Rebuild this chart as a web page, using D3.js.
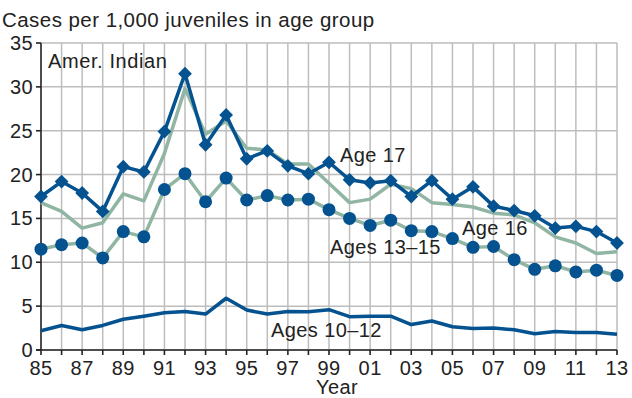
<!DOCTYPE html>
<html>
<head>
<meta charset="utf-8">
<script src="https://cdn.jsdelivr.net/npm/d3@7"></script>
<style>
  body { margin: 0; background: #fff; }
  text { font-family: "Liberation Sans", Arial, sans-serif; fill: #222; }
</style>
</head>
<body>
<div id="chart"></div>
<script>
// years 1985..2013
const years = d3.range(1985, 2014);
const age17 = [17.5, 19.2, 17.9, 15.8, 20.9, 20.3, 24.9, 31.5, 23.4, 26.8, 21.8, 22.7, 21.0, 20.1, 21.4, 19.4, 19.05, 19.3, 17.5, 19.3, 17.2, 18.6, 16.4, 15.9, 15.3, 13.9, 14.1, 13.5, 12.2];
const age16 = [16.8, 15.8, 13.9, 14.5, 17.8, 17.0, 22.4, 29.8, 24.6, 26.1, 23.0, 22.8, 21.2, 21.2, 19.0, 16.8, 17.2, 18.9, 18.4, 16.8, 16.6, 16.3, 15.6, 15.4, 14.5, 12.9, 12.2, 11.0, 11.2];
const age1315 = [11.5, 12.0, 12.2, 10.5, 13.5, 12.9, 18.3, 20.1, 16.9, 19.6, 17.1, 17.6, 17.1, 17.2, 16.0, 15.0, 14.2, 14.8, 13.6, 13.5, 12.7, 11.7, 11.8, 10.3, 9.2, 9.6, 8.9, 9.1, 8.5];
const age1012 = [2.2, 2.8, 2.3, 2.8, 3.5, 3.85, 4.25, 4.4, 4.1, 5.9, 4.55, 4.1, 4.4, 4.35, 4.6, 3.8, 3.85, 3.85, 2.9, 3.3, 2.65, 2.45, 2.5, 2.3, 1.85, 2.1, 2.0, 2.0, 1.8];
const yTicks = [0, 5, 10, 15, 20, 25, 30, 35];
const xLabelYears = d3.range(1985, 2014, 2);

const width = 632, height = 398;
const margin = { left: 41, right: 15, top: 43, bottom: 48 };
const blue = "#04528f", green = "#90b5a3";
const fs = "20px", ls = "0.4px";

const svg = d3.select("#chart").append("svg")
  .attr("width", width)
  .attr("height", height);

const x = d3.scaleLinear().domain([1985, 2013]).range([margin.left, width - margin.right]);
const y = d3.scaleLinear().domain([0, 35]).range([height - margin.bottom, margin.top]);

// grid
svg.append("g").selectAll("line")
  .data(years)
  .enter().append("line")
  .attr("x1", d => x(d)).attr("x2", d => x(d))
  .attr("y1", y(35)).attr("y2", y(0) + 5)
  .attr("stroke", "#bdbdbd").attr("stroke-width", 1.5);

svg.append("g").selectAll("line")
  .data(yTicks)
  .enter().append("line")
  .attr("x1", x(1985) - 5).attr("x2", x(2013))
  .attr("y1", d => y(d)).attr("y2", d => y(d))
  .attr("stroke", "#bdbdbd").attr("stroke-width", 1.5);

// axes lines
svg.append("line")
  .attr("x1", x(1985)).attr("x2", x(1985))
  .attr("y1", y(35)).attr("y2", y(0))
  .attr("stroke", "#222").attr("stroke-width", 1.5);
svg.append("line")
  .attr("x1", x(1985) - 5).attr("x2", x(2013))
  .attr("y1", y(0)).attr("y2", y(0))
  .attr("stroke", "#222").attr("stroke-width", 1.5);
svg.append("g").selectAll("line")
  .data(years)
  .enter().append("line")
  .attr("x1", d => x(d)).attr("x2", d => x(d))
  .attr("y1", y(0)).attr("y2", y(0) + 5)
  .attr("stroke", "#222").attr("stroke-width", 1.5);
svg.append("g").selectAll("line")
  .data(yTicks)
  .enter().append("line")
  .attr("x1", x(1985) - 5).attr("x2", x(1985))
  .attr("y1", d => y(d)).attr("y2", d => y(d))
  .attr("stroke", "#222").attr("stroke-width", 1.5);

// tick labels
svg.append("g").selectAll("text")
  .data(yTicks)
  .enter().append("text")
  .attr("x", 33)
  .attr("y", d => y(d) + 7)
  .attr("text-anchor", "end")
  .attr("font-size", fs).attr("letter-spacing", ls)
  .text(d => d);

svg.append("g").selectAll("text")
  .data(xLabelYears)
  .enter().append("text")
  .attr("x", d => x(d))
  .attr("y", 375)
  .attr("text-anchor", "middle")
  .attr("font-size", fs).attr("letter-spacing", ls)
  .text(d => String(d % 100).padStart(2, "0"));

svg.append("text").attr("x", 337).attr("y", 394).attr("text-anchor", "middle")
  .attr("font-size", fs).attr("letter-spacing", ls).text("Year");
svg.append("text").attr("x", 2).attr("y", 27)
  .attr("font-size", "20.5px").attr("letter-spacing", "0.45px")
  .text("Cases per 1,000 juveniles in age group");
svg.append("text").attr("x", 48).attr("y", 68)
  .attr("font-size", "20px").attr("letter-spacing", "0.6px").attr("font-weight", 500)
  .text("Amer. Indian");

// lines
const line = d3.line().x((d, i) => x(years[i])).y(d => y(d));

function drawLine(data, color) {
  svg.append("path")
    .datum(data)
    .attr("fill", "none")
    .attr("stroke", color)
    .attr("stroke-width", 3.5)
    .attr("stroke-linejoin", "round")
    .attr("d", line);
}

drawLine(age16, green);
drawLine(age1315, green);
drawLine(age1012, blue);
drawLine(age17, blue);

svg.append("g").selectAll("circle")
  .data(age1315)
  .enter().append("circle")
  .attr("cx", (d, i) => x(years[i]))
  .attr("cy", d => y(d))
  .attr("r", 6.5)
  .attr("fill", blue);

svg.append("g").selectAll("path")
  .data(age17)
  .enter().append("path")
  .attr("d", d3.symbol().type(d3.symbolSquare).size(95))
  .attr("transform", (d, i) => `translate(${x(years[i])},${y(d)}) rotate(45)`)
  .attr("fill", blue);

// series labels
const labels = [
  { t: "Age 17", x: 340, y: 162 },
  { t: "Age 16", x: 462, y: 235 },
  { t: "Ages 13\u201315", x: 330, y: 254 },
  { t: "Ages 10\u201312", x: 271, y: 337 }
];
svg.append("g").selectAll("text")
  .data(labels)
  .enter().append("text")
  .attr("x", d => d.x).attr("y", d => d.y)
  .attr("font-size", fs).attr("letter-spacing", ls)
  .text(d => d.t);
</script>
</body>
</html>
